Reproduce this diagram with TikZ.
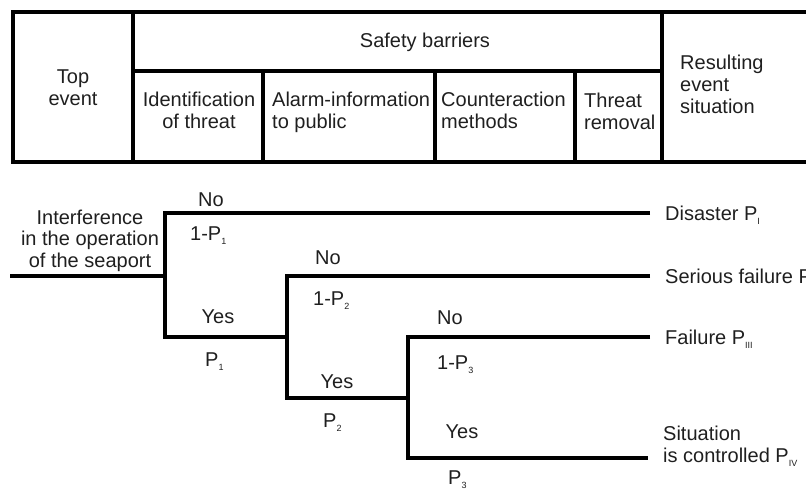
\documentclass[tikz,border=0pt]{standalone}
\usepackage{fontspec}
\setmainfont{Liberation Sans}
\newcommand\lowix[1]{\raisebox{-0.4ex}{\fontsize{9}{9}\selectfont #1}}
\begin{document}
\begin{tikzpicture}[x=1pt,y=-1pt,
  rule/.style={line width=3.3pt, black},
  branch/.style={line width=3.3pt, black},
  txt/.style={inner sep=0pt, font=\fontsize{20}{22}\selectfont, text=black!88},
  lbl/.style={txt, text height=14.3pt, text depth=0pt},
  outcome/.style={lbl, anchor=west, inner xsep=15pt},
]
\useasboundingbox (0,0) rectangle (806,488);

% ---- header table ----
\draw[rule] (806,12) -- (13,12) -- (13,162) -- (806,162);
\draw[rule] (133,12) -- (133,162);
\draw[rule] (662,12) -- (662,162);
\draw[rule] (133,71) -- (662,71);
\draw[rule] (263,71) -- (263,162);
\draw[rule] (435,71) -- (435,162);
\draw[rule] (575,71) -- (575,162);

\node[txt, align=center] (top) at (73,88) {Top\\event};
\node[lbl] (sb) at (425,40) {Safety barriers};
\node[txt, align=center] (h1) at (199,110) {Identification\\of threat};
\node[txt, align=left, anchor=west] (h2) at (272,112) {Alarm-information\\to public};
\node[txt, align=left, anchor=west] (h3) at (441,110) {Counteraction\\methods};
\node[txt, align=left, anchor=west] (h4) at (584,111) {Threat\\removal};
\node[txt, align=left, anchor=west] (res) at (680,84) {Resulting\\event\\situation};

% ---- event tree ----
\node[txt, align=center, font=\fontsize{20}{21.5}\selectfont] (ev) at (90,240.5)
  {Interference\\in the operation\\of the seaport};

\coordinate (s)  at (10,276);
\coordinate (f1) at (165,276);
\coordinate (f2) at (287,337);
\coordinate (f3) at (408,398);
\coordinate (e4) at (648,458);

\node[outcome] (o1) at (650,213) {Disaster P\lowix{I}};
\node[outcome] (o2) at (650,276) {Serious failure P\lowix{II}};
\node[outcome] (o3) at (650,337) {Failure P\lowix{III}};
\node[txt, align=left, anchor=west] (o4) at (663,446) {Situation\\is controlled P\lowix{IV}};

\draw[branch] (s) -- (f1);
\draw[branch] (o1.west) -| (f2 -| f1) -- (f2);
\draw[branch] (o2.west) -| (f3 -| f2) -- (f3);
\draw[branch] (o3.west) -| (e4 -| f3) -- (e4);

% branch labels
\node[lbl] (n1) at (211,199) {No};
\node[lbl, anchor=west] (q1) at (190,233) {1-P\lowix{1}};
\node[lbl] (y1) at (218,316) {Yes};
\node[lbl, anchor=west] (p1) at (205,359) {P\lowix{1}};

\node[lbl] (n2) at (328,257) {No};
\node[lbl, anchor=west] (q2) at (313,298) {1-P\lowix{2}};
\node[lbl] (y2) at (337,381) {Yes};
\node[lbl, anchor=west] (p2) at (323,420) {P\lowix{2}};

\node[lbl] (n3) at (450,317) {No};
\node[lbl, anchor=west] (q3) at (437,362) {1-P\lowix{3}};
\node[lbl] (y3) at (462,431) {Yes};
\node[lbl, anchor=west] (p3) at (448,477) {P\lowix{3}};
\end{tikzpicture}
\end{document}
